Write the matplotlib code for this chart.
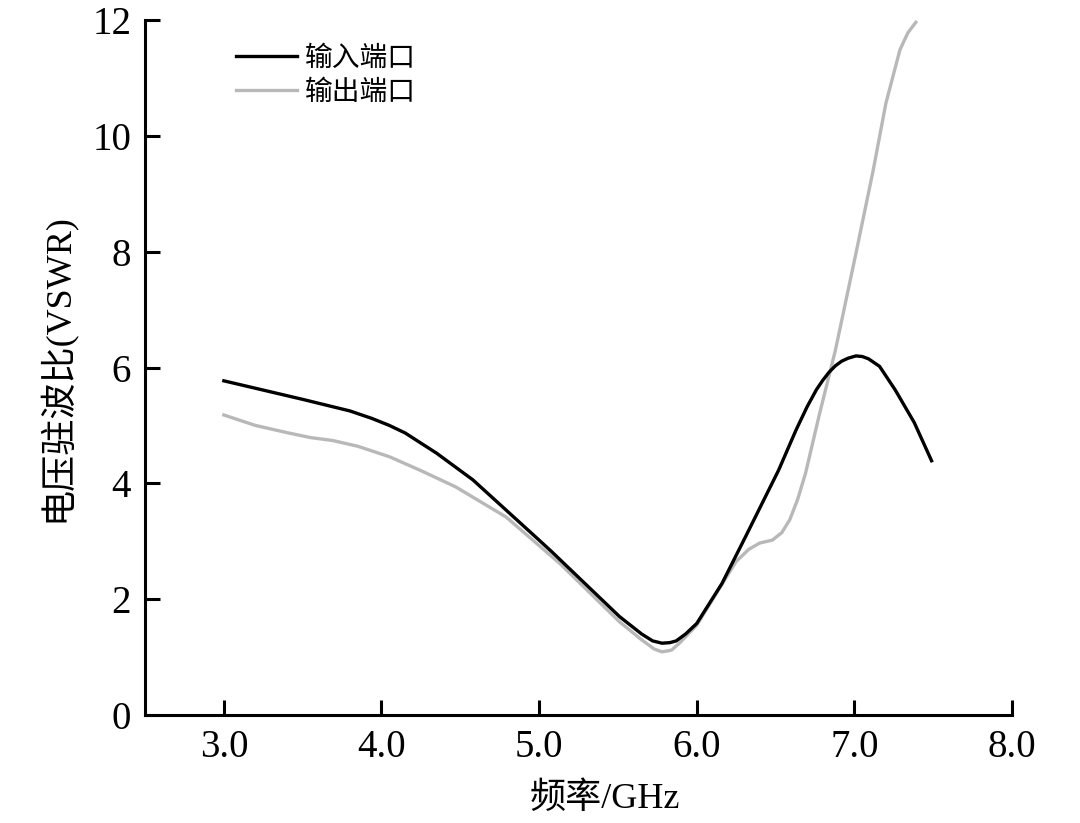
import matplotlib.pyplot as plt

plt.rcParams['font.family'] = ['Liberation Serif', 'Noto Sans CJK SC']

# 输入端口 (input port)
freq_in = [3.0, 3.5, 3.8, 3.94, 4.05, 4.15, 4.35, 4.58, 5.0, 5.08, 5.51, 5.65, 5.72, 5.78,
           5.83, 5.87, 5.93, 6.0, 6.16, 6.31, 6.52, 6.63, 6.70, 6.76, 6.80, 6.84, 6.88,
           6.92, 6.96, 7.01, 7.05, 7.09, 7.16, 7.26, 7.38, 7.49]
vswr_in = [5.77, 5.45, 5.25, 5.12, 5.0, 4.87, 4.52, 4.06, 3.02, 2.82, 1.70, 1.40, 1.28, 1.24,
           1.25, 1.28, 1.40, 1.58, 2.27, 3.08, 4.23, 4.92, 5.32, 5.62, 5.78, 5.92, 6.03,
           6.11, 6.16, 6.20, 6.19, 6.15, 6.02, 5.61, 5.05, 4.39]

# 输出端口 (output port)
freq_out = [3.0, 3.2, 3.41, 3.55, 3.69, 3.85, 4.05, 4.25, 4.47, 4.79, 5.13, 5.51, 5.65, 5.73,
            5.78, 5.84, 5.89, 6.0, 6.12, 6.25, 6.33, 6.40, 6.48, 6.54, 6.59, 6.64, 6.69,
            6.78, 6.88, 7.01, 7.12, 7.20, 7.25, 7.29, 7.34, 7.39]
vswr_out = [5.18, 5.0, 4.87, 4.79, 4.74, 4.64, 4.46, 4.22, 3.94, 3.42, 2.62, 1.61, 1.30, 1.14,
            1.09, 1.12, 1.24, 1.55, 2.08, 2.65, 2.86, 2.97, 3.02, 3.15, 3.37, 3.72, 4.17,
            5.21, 6.30, 7.97, 9.41, 10.56, 11.08, 11.49, 11.78, 11.96]

fig = plt.figure(figsize=(10.8, 8.23), dpi=100)
ax = fig.add_axes([0.1343, 0.1312, 0.8027, 0.8445])

ax.plot(freq_out, vswr_out, color='#b8b8b8', lw=2.4, label='输出端口')
ax.plot(freq_in, vswr_in, color='black', lw=2.4, label='输入端口')

ax.set_xlim(2.5, 8.0)
ax.set_ylim(0, 12)
ax.set_xticks([3, 4, 5, 6, 7, 8])
ax.set_xticklabels(['3.0', '4.0', '5.0', '6.0', '7.0', '8.0'])
ax.set_yticks([0, 2, 4, 6, 8, 10, 12])

for s in ['top', 'right']:
    ax.spines[s].set_visible(False)
for s in ['left', 'bottom']:
    ax.spines[s].set_linewidth(2.2)
ax.tick_params(direction='in', length=11, width=2.2, labelsize=28, pad=10)

ax.set_xlabel('频率/GHz', fontsize=26, labelpad=12)
ax.xaxis.label.set_x(0.53)
ax.set_ylabel('电压驻波比(VSWR)', fontsize=26, labelpad=12)

h, l = ax.get_legend_handles_labels()
ax.legend(h[::-1], l[::-1], loc='upper left', bbox_to_anchor=(0.076, 0.998), frameon=False,
          fontsize=20, handlelength=2.2, handletextpad=0.3, labelspacing=0.3)

fig.savefig('out.png', dpi=100)
